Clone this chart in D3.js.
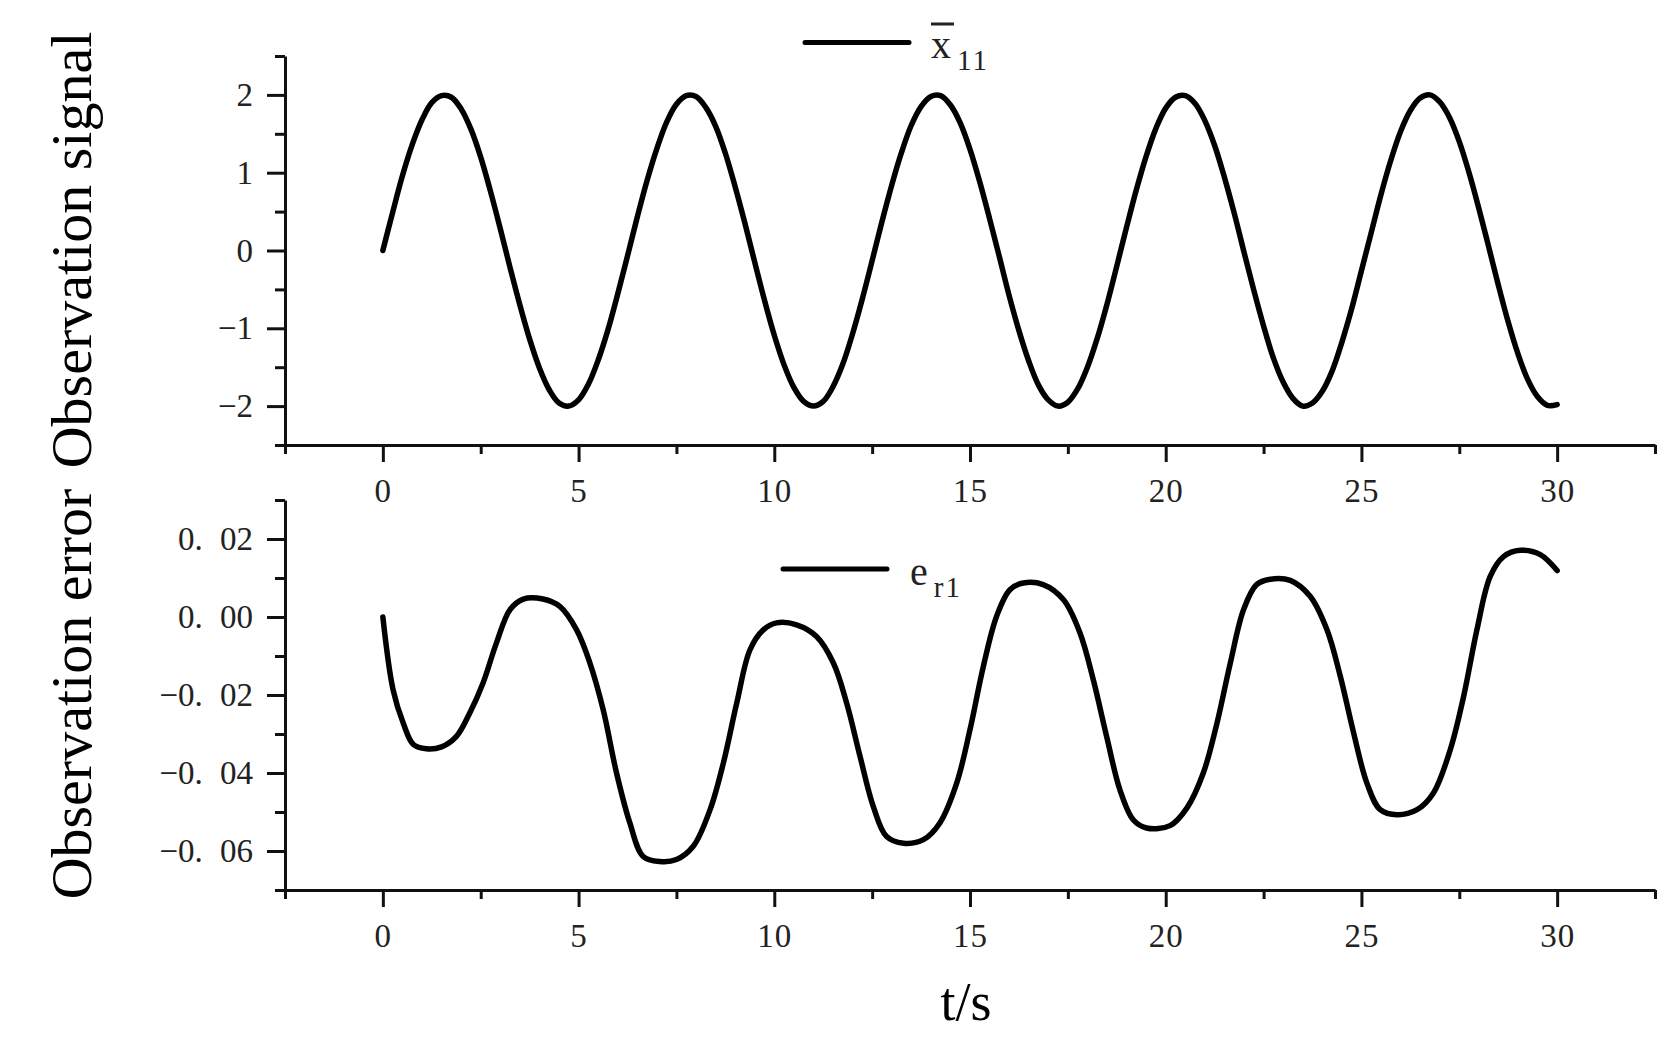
<!DOCTYPE html>
<html>
<head>
<meta charset="utf-8">
<script src="https://cdn.jsdelivr.net/npm/d3@7"></script>
<style>
  html, body { margin: 0; padding: 0; background: #fff; }
  svg { display: block; }
  .tick text { font-family: "Liberation Serif", "Times New Roman", serif; fill: #222; }
</style>
</head>
<body>
<svg id="chart" width="1675" height="1045"></svg>
<script>
// ---------------- data ----------------
const signalT = [0,0.25,0.5,0.75,1,1.25,1.5,1.75,2,2.25,2.5,2.75,3,3.25,3.5,3.75,4,4.25,4.5,4.75,5,5.25,5.5,5.75,6,6.25,6.5,6.75,7,7.25,7.5,7.75,8,8.25,8.5,8.75,9,9.25,9.5,9.75,10,10.25,10.5,10.75,11,11.25,11.5,11.75,12,12.25,12.5,12.75,13,13.25,13.5,13.75,14,14.25,14.5,14.75,15,15.25,15.5,15.75,16,16.25,16.5,16.75,17,17.25,17.5,17.75,18,18.25,18.5,18.75,19,19.25,19.5,19.75,20,20.25,20.5,20.75,21,21.25,21.5,21.75,22,22.25,22.5,22.75,23,23.25,23.5,23.75,24,24.25,24.5,24.75,25,25.25,25.5,25.75,26,26.25,26.5,26.75,27,27.25,27.5,27.75,28,28.25,28.5,28.75,29,29.25,29.5,29.75,30];
const signalX11 = [0,0.49,0.96,1.36,1.68,1.90,1.99,1.97,1.82,1.56,1.20,0.76,0.28,-0.22,-0.70,-1.14,-1.51,-1.79,-1.96,-2.00,-1.92,-1.72,-1.41,-1.02,-0.56,-0.07,0.43,0.90,1.31,1.65,1.88,1.99,1.98,1.84,1.60,1.25,0.82,0.35,-0.15,-0.64,-1.09,-1.47,-1.76,-1.94,-2.00,-1.94,-1.75,-1.46,-1.07,-0.62,-0.13,0.37,0.84,1.26,1.61,1.85,1.98,1.99,1.87,1.64,1.30,0.88,0.41,-0.08,-0.58,-1.03,-1.42,-1.73,-1.92,-2.00,-1.95,-1.78,-1.50,-1.13,-0.69,-0.20,0.30,0.78,1.21,1.57,1.83,1.97,1.99,1.89,1.67,1.35,0.94,0.48,-0.02,-0.51,-0.97,-1.38,-1.69,-1.90,-2.00,-1.96,-1.81,-1.55,-1.18,-0.75,-0.26,0.23,0.72,1.16,1.53,1.80,1.96,2.00,1.91,1.71,1.40,1.00,0.54,0.05,-0.45,-0.92,-1.33,-1.66,-1.88,-1.99,-1.98];

const errorT = [0,0.26,0.52,0.78,1.11,1.5,1.88,2.22,2.56,2.9,3.25,3.59,4.09,4.52,4.95,5.29,5.63,5.97,6.31,6.65,7.08,7.5,7.93,8.36,8.7,9.04,9.38,9.72,10.06,10.57,11.08,11.51,11.85,12.19,12.53,12.87,13.3,13.81,14.23,14.66,15.0,15.34,15.68,16.02,16.36,16.87,17.39,17.81,18.15,18.49,18.83,19.17,19.51,20.11,20.54,20.96,21.31,21.65,21.99,22.32,22.67,23.18,23.69,24.12,24.46,24.8,25.14,25.48,25.91,26.42,26.84,27.27,27.61,27.95,28.29,28.63,29.06,29.57,30.0];
const errorEr1 = [0,-0.0186,-0.0272,-0.0327,-0.0338,-0.0333,-0.0306,-0.0246,-0.0169,-0.0067,0.0019,0.0046,0.0046,0.0027,-0.0033,-0.0118,-0.0238,-0.0400,-0.0528,-0.0614,-0.0627,-0.0622,-0.0588,-0.0494,-0.0374,-0.0221,-0.0084,-0.0033,-0.0015,-0.0020,-0.0050,-0.0118,-0.0221,-0.0357,-0.0486,-0.0563,-0.0580,-0.0571,-0.0528,-0.0426,-0.0289,-0.0127,0.0002,0.0070,0.0087,0.0083,0.0044,-0.0041,-0.0161,-0.0306,-0.0443,-0.0520,-0.0541,-0.0535,-0.0490,-0.0400,-0.0272,-0.0118,0.0019,0.0083,0.0097,0.0094,0.0053,-0.0033,-0.0152,-0.0297,-0.0426,-0.0494,-0.0507,-0.0494,-0.0451,-0.0340,-0.0204,-0.0033,0.0104,0.0155,0.0171,0.0160,0.0119];

const xTicks = [0,5,10,15,20,25,30];
const xTickLabels = ["0","5","10","15","20","25","30"];
const xMinorTicks = [-2.5,2.5,7.5,12.5,17.5,22.5,27.5,32.5];

const sigYTicks = [-2,-1,0,1,2];
const sigYTickLabels = ["\u22122","\u22121","0","1","2"];
const sigYMinorTicks = [-2.5,-1.5,-0.5,0.5,1.5,2.5];

const errYTicks = [-0.06,-0.04,-0.02,0,0.02];
const errYTickLabels = ["\u22120. 06","\u22120. 04","\u22120. 02","0. 00","0. 02"];
const errYMinorTicks = [-0.07,-0.05,-0.03,-0.01,0.01,0.03];

// ---------------- layout ----------------
const svg = d3.select("#chart");
const xLeft = 285, xRight = 1655;
const panels = [
  { top: 56, bottom: 445, domain: [-2.5, 2.5], t: signalT, v: signalX11,
    yTicks: sigYTicks, yLabels: sigYTickLabels, yMinor: sigYMinorTicks },
  { top: 500, bottom: 890, domain: [-0.07, 0.03], t: errorT, v: errorEr1,
    yTicks: errYTicks, yLabels: errYTickLabels, yMinor: errYMinorTicks }
];

const x = d3.scaleLinear().domain([-2.5, 32.5]).range([xLeft, xRight]);

panels.forEach(p => {
  const y = d3.scaleLinear().domain(p.domain).range([p.bottom, p.top]);
  const g = svg.append("g");

  // x axis - major
  const xa = g.append("g").attr("transform", `translate(0,${p.bottom})`)
    .call(d3.axisBottom(x).tickValues(xTicks).tickFormat((d, i) => xTickLabels[i])
      .tickSizeInner(17).tickSizeOuter(0).tickPadding(17));
  xa.select(".domain").attr("stroke", "#111").attr("stroke-width", 3);
  xa.selectAll(".tick line").attr("stroke", "#111").attr("stroke-width", 3);
  xa.selectAll(".tick text").attr("font-size", 33).style("letter-spacing", "1px");
  // x axis - minor
  const xm = g.append("g").attr("transform", `translate(0,${p.bottom})`)
    .call(d3.axisBottom(x).tickValues(xMinorTicks).tickFormat("").tickSizeInner(9).tickSizeOuter(0));
  xm.select(".domain").remove();
  xm.selectAll(".tick line").attr("stroke", "#111").attr("stroke-width", 3);

  // y axis - major
  const ya = g.append("g").attr("transform", `translate(${xLeft},0)`)
    .call(d3.axisLeft(y).tickValues(p.yTicks).tickFormat((d, i) => p.yLabels[i])
      .tickSizeInner(18).tickSizeOuter(0).tickPadding(14));
  ya.select(".domain").attr("stroke", "#111").attr("stroke-width", 3);
  ya.selectAll(".tick line").attr("stroke", "#111").attr("stroke-width", 3);
  ya.selectAll(".tick text").attr("font-size", 33).style("white-space", "pre").style("word-spacing", "9px");
  // y axis - minor
  const ym = g.append("g").attr("transform", `translate(${xLeft},0)`)
    .call(d3.axisLeft(y).tickValues(p.yMinor).tickFormat("").tickSizeInner(10).tickSizeOuter(0));
  ym.select(".domain").remove();
  ym.selectAll(".tick line").attr("stroke", "#111").attr("stroke-width", 3);

  // curve
  const pts = p.t.map((t, i) => [t, p.v[i]]);
  g.append("path")
    .datum(pts)
    .attr("fill", "none")
    .attr("stroke", "#000")
    .attr("stroke-width", 5.5)
    .attr("stroke-linejoin", "round")
    .attr("stroke-linecap", "round")
    .attr("d", d3.line().x(d => x(d[0])).y(d => y(d[1])).curve(d3.curveCatmullRom.alpha(0.5)));
});

// ---------------- legends ----------------
const serif = "Liberation Serif, Times New Roman, serif";
// top legend
svg.append("line").attr("x1", 805).attr("x2", 909).attr("y1", 42.5).attr("y2", 42.5)
  .attr("stroke", "#000").attr("stroke-width", 5).attr("stroke-linecap", "round");
const t1 = svg.append("text").attr("x", 931).attr("y", 58).attr("font-family", serif)
  .attr("font-size", 40).attr("fill", "#222");
t1.append("tspan").text("x");
t1.append("tspan").attr("dy", 12).attr("dx", 6).attr("font-size", 29).style("letter-spacing", "2px").text("11");
svg.append("line").attr("x1", 931).attr("x2", 954).attr("y1", 24).attr("y2", 24)
  .attr("stroke", "#222").attr("stroke-width", 3);

// bottom legend
svg.append("line").attr("x1", 783).attr("x2", 887).attr("y1", 569).attr("y2", 569)
  .attr("stroke", "#000").attr("stroke-width", 5).attr("stroke-linecap", "round");
const t2 = svg.append("text").attr("x", 910).attr("y", 585).attr("font-family", serif)
  .attr("font-size", 40).attr("fill", "#222");
t2.append("tspan").text("e");
t2.append("tspan").attr("dy", 12).attr("dx", 6).attr("font-size", 29).style("letter-spacing", "2px").text("r1");

// ---------------- axis titles ----------------
svg.append("text")
  .attr("transform", "translate(91,250) rotate(-90)")
  .attr("text-anchor", "middle").attr("font-family", serif).attr("font-size", 58).attr("fill", "#000")
  .text("Observation signal");
svg.append("text")
  .attr("transform", "translate(91,694) rotate(-90)")
  .attr("text-anchor", "middle").attr("font-family", serif).attr("font-size", 58).attr("fill", "#000")
  .text("Observation error");
svg.append("text")
  .attr("x", 966).attr("y", 1020)
  .attr("text-anchor", "middle").attr("font-family", serif).attr("font-size", 54).attr("fill", "#000")
  .text("t/s");
</script>
</body>
</html>
